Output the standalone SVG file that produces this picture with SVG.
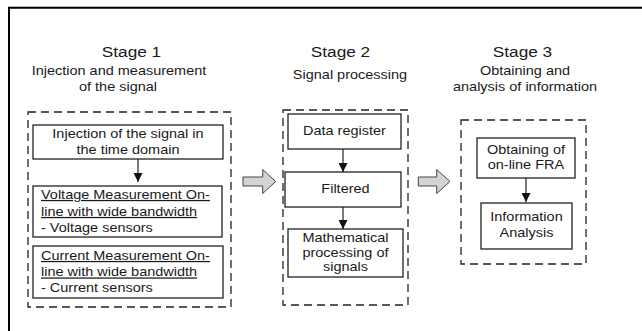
<svg xmlns="http://www.w3.org/2000/svg" width="642" height="331" viewBox="0 0 642 331">
  <style>
    text { font-family: "Liberation Sans", Arial, sans-serif; fill: #1a1a1a; transform-box: fill-box; transform: scaleX(1.15); }
    .c { text-anchor: middle; transform-origin: center; }
    .l { text-anchor: start; transform-origin: left center; }
    .title { font-size: 15px; }
    .txt { font-size: 12.6px; }
    .u { text-decoration: underline; }
    .box { fill: #fff; stroke: #222; stroke-width: 1.3; }
    .group { fill: none; stroke: #222; stroke-width: 1.3; stroke-dasharray: 8 5; }
    .link { stroke: #222; stroke-width: 1.2; fill: none; marker-end: url(#head); }
    .block { fill: #d4d4d4; stroke: #444; stroke-width: 1; }
  </style>
  <defs>
    <marker id="head" viewBox="0 0 10 10" refX="10" refY="5" markerWidth="9" markerHeight="9" markerUnits="userSpaceOnUse" orient="auto">
      <path d="M0,0 L10,5 L0,10 Z" fill="#111"/>
    </marker>
  </defs>

  <rect width="642" height="331" fill="#fff"/>
  <!-- outer frame (left and top edges) -->
  <path d="M9,335 L9,7.7 L650,7.7" fill="none" stroke="#000" stroke-width="2"/>

  <!-- stage headings -->
  <g id="stage1-heading">
    <text class="c title" x="131.5" y="57">Stage 1</text>
    <text class="c txt" x="119" y="75">Injection and measurement</text>
    <text class="c txt" x="118" y="91">of the signal</text>
  </g>
  <g id="stage2-heading">
    <text class="c title" x="340.5" y="57">Stage 2</text>
    <text class="c txt" x="350" y="79.5">Signal processing</text>
  </g>
  <g id="stage3-heading">
    <text class="c title" x="522.5" y="57">Stage 3</text>
    <text class="c txt" x="525" y="75.5">Obtaining and</text>
    <text class="c txt" x="525" y="91.5">analysis of information</text>
  </g>

  <!-- dashed stage groups -->
  <g id="stage1-group"><rect class="group" x="28" y="112" width="203" height="195"/></g>
  <g id="stage2-group"><rect class="group" x="283" y="110" width="125" height="195"/></g>
  <g id="stage3-group"><rect class="group" x="461" y="120" width="125" height="144"/></g>

  <!-- stage 1 nodes -->
  <g id="injection">
    <rect class="box" x="33" y="125" width="190" height="34"/>
    <text class="c txt" x="128" y="137.7">Injection of the signal in</text>
    <text class="c txt" x="128" y="154">the time domain</text>
  </g>
  <g id="voltage">
    <rect class="box" x="33" y="186" width="189" height="51"/>
    <text class="l txt u" x="41" y="199">Voltage Measurement On-</text>
    <text class="l txt u" x="41" y="216">line with wide bandwidth</text>
    <text class="l txt" x="41" y="232.5">- Voltage sensors</text>
  </g>
  <g id="current">
    <rect class="box" x="33" y="246" width="190" height="52"/>
    <text class="l txt u" x="41" y="260">Current Measurement On-</text>
    <text class="l txt u" x="41" y="276.5">line with wide bandwidth</text>
    <text class="l txt" x="41" y="292.5">- Current sensors</text>
  </g>

  <!-- stage 2 nodes -->
  <g id="data-register">
    <rect class="box" x="288" y="114" width="113" height="35"/>
    <text class="c txt" x="344.5" y="135.5">Data register</text>
  </g>
  <g id="filtered">
    <rect class="box" x="285" y="172" width="116" height="35"/>
    <text class="c txt" x="345.5" y="193.5">Filtered</text>
  </g>
  <g id="math">
    <rect class="box" x="288" y="229" width="115" height="48"/>
    <text class="c txt" x="345.5" y="241.7">Mathematical</text>
    <text class="c txt" x="345.5" y="256.7">processing of</text>
    <text class="c txt" x="345.5" y="271.5">signals</text>
  </g>

  <!-- stage 3 nodes -->
  <g id="fra">
    <rect class="box" x="477" y="138" width="98" height="40"/>
    <text class="c txt" x="526" y="154.5">Obtaining of</text>
    <text class="c txt" x="526" y="169.5">on-line FRA</text>
  </g>
  <g id="analysis">
    <rect class="box" x="481" y="203" width="91" height="46"/>
    <text class="c txt" x="526.5" y="221">Information</text>
    <text class="c txt" x="526.5" y="237">Analysis</text>
  </g>

  <!-- connectors -->
  <g id="connectors">
    <path class="link" d="M138,159 L138,182"/>
    <path class="link" d="M343,149 L343,172"/>
    <path class="link" d="M343,207 L343,229"/>
    <path class="link" d="M526,178 L526,202"/>
    <path class="block" d="M243,177 L262.7,177 L262.7,169.5 L275.7,181.5 L262.7,193.5 L262.7,186 L243,186 Z"/>
    <path class="block" d="M418.3,177 L436.7,177 L436.7,169.5 L450,181.5 L436.7,193.5 L436.7,186 L418.3,186 Z"/>
  </g>
</svg>
